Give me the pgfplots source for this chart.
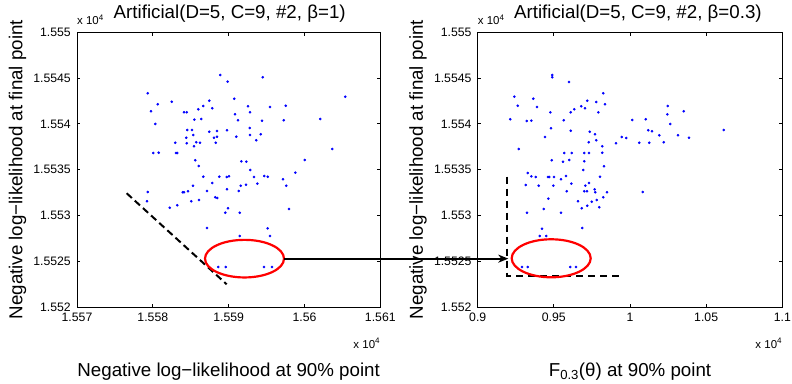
\documentclass[border=0pt]{standalone}
\usepackage{fontspec}
\setmainfont{Liberation Sans}
\usepackage{pgfplots}
\pgfplotsset{compat=1.18}
\usetikzlibrary{arrows.meta}

\pgfplotsset{
  matstyle/.style={
    scale only axis, height=274.7bp, anchor=south west,
    scaled ticks=false,
    axis line style={line width=0.9bp},
    every tick/.style={black, line width=0.8bp},
    major tick length=3.5bp,
    tick align=inside,
    ymin=15520, ymax=15550,
    ytick={15520,15525,15530,15535,15540,15545,15550},
    yticklabels={1.552,1.5525,1.553,1.5535,1.554,1.5545,1.555},
    tick label style={font=\fontsize{12.3}{14}\selectfont},
    xticklabel style={inner sep=0pt, anchor=north, yshift=-6bp},
    yticklabel style={inner sep=0pt, anchor=east, xshift=-6bp},
    clip=false,
    every axis title/.style={anchor=base, inner sep=0pt, font=\fontsize{18.8}{21}\selectfont},
    every axis x label/.style={at={(axis description cs:0.5,-0.2512)}, anchor=base, inner sep=0pt, font=\fontsize{18.8}{21}\selectfont},
    every axis y label/.style={at={(axis description cs:-0.18,0.5)}, rotate=90, anchor=base, inner sep=0pt, font=\fontsize{18.8}{21}\selectfont},
    ylabel={Negative log−likelihood at final point},
  },
  dots/.style={only marks, mark=*, mark size=1.1bp, color=blue, mark options={draw=blue, fill=blue}},
}

\begin{document}
\begin{tikzpicture}
\useasboundingbox (0,0) rectangle (792bp,384bp);

% ---------------- left panel ----------------
\begin{axis}[matstyle, at={(77bp,77bp)}, width=303.3bp,
  xmin=15570, xmax=15610,
  xtick={15570,15580,15590,15600,15610},
  xticklabels={1.557,1.558,1.559,1.56,1.561},
  title={Artificial(D=5, C=9, \#2, β=1)},
  title style={at={(axis description cs:0.5035,1.051)}},
  xlabel={Negative log−likelihood at 90\% point},
]
\addplot[dots] coordinates {
(15588.9,15545.34) (15589.87,15544.61) (15594.49,15545.09) (15579.32,15543.34) (15605.38,15542.97)
(15582.49,15542.42) (15587.45,15542.53) (15590.74,15542.75) (15580.64,15542.14) (15586.66,15541.95)
(15592.55,15541.92) (15595.45,15541.84) (15597.52,15541.98) (15579.76,15541.37) (15584.11,15541.26)
(15584.47,15541.26) (15586.00,15541.59) (15587.84,15541.70) (15590.84,15541.04) (15592.82,15541.26)
(15585.47,15540.46) (15586.39,15540.53) (15591.23,15540.39) (15594.40,15540.35) (15597.26,15540.39)
(15602.09,15540.53) (15580.33,15539.99) (15584.55,15539.33) (15585.17,15539.33) (15587.45,15539.14)
(15588.46,15539.22) (15589.78,15539.30) (15592.78,15539.55) (15584.41,15538.49) (15585.34,15538.78)
(15588.07,15538.49) (15588.46,15538.60) (15591.01,15538.60) (15592.82,15538.78) (15594.23,15538.86)
(15593.65,15538.21) (15582.96,15537.94) (15584.47,15537.88) (15585.73,15537.99) (15586.22,15537.94)
(15588.29,15537.94) (15585.43,15537.55) (15603.67,15537.26) (15580.06,15536.82) (15580.77,15536.85)
(15583.06,15536.82) (15583.23,15536.82) (15585.60,15536.02) (15586.05,15535.40) (15591.67,15535.91)
(15592.33,15535.87) (15600.03,15536.05) (15592.85,15534.96) (15598.79,15534.67) (15586.66,15534.23)
(15588.77,15534.23) (15589.74,15534.20) (15590.05,15534.27) (15593.34,15534.20) (15594.70,15534.31)
(15595.15,15534.23) (15587.84,15533.54) (15585.30,15533.25) (15591.59,15533.25) (15592.29,15533.36)
(15593.78,15533.47) (15597.17,15533.95) (15597.60,15533.25) (15579.32,15532.56) (15583.94,15532.53)
(15584.11,15532.53) (15584.64,15532.64) (15587.14,15532.67) (15589.78,15532.85) (15591.32,15532.67)
(15588.24,15531.98) (15588.50,15531.90) (15586.09,15531.69) (15579.23,15531.54) (15585.07,15531.54)
(15582.23,15530.84) (15583.23,15531.11) (15589.91,15530.78) (15589.56,15530.30) (15591.46,15530.30)
(15597.96,15530.70) (15587.14,15528.63) (15595.15,15528.59) (15591.46,15527.75) (15595.45,15527.75)
(15588.63,15524.37) (15589.61,15524.37) (15594.66,15524.37) (15595.72,15524.37)
};
\draw[black, line width=2bp, dash pattern=on 7bp off 4bp] (axis cs:15576.55,15532.42) -- (axis cs:15589.74,15522.48);
\draw[red, line width=2.2bp] (axis cs:15592.09,15525.28) ellipse [x radius=39.5bp, y radius=18.8bp];
\coordinate (A) at (axis cs:15597.3,15525.28);
\node[anchor=base west, inner sep=0pt, font=\fontsize{11.5}{13}\selectfont] at (rel axis cs:0,1) [yshift=7.3bp] {x 10\textsuperscript{4}};
\node[anchor=base east, inner sep=0pt, font=\fontsize{11.5}{13}\selectfont] at (rel axis cs:1,0) [yshift=-41bp] {x 10\textsuperscript{4}};
\end{axis}

% ---------------- right panel ----------------
\begin{axis}[matstyle, at={(477.7bp,77bp)}, width=304.6bp,
  xmin=9000, xmax=11000,
  xtick={9000,9500,10000,10500,11000},
  xticklabels={0.9,0.95,1,1.05,1.1},
  title={Artificial(D=5, C=9, \#2, β=0.3)},
  title style={at={(axis description cs:0.526,1.051)}},
  xlabel={F\textsubscript{0.3}(θ) at 90\% point},
]
\addplot[dots] coordinates {
(9489.8,15545.34) (9489.8,15545.09) (9599.5,15544.57) (9240.3,15542.97) (9365.1,15542.75)
(9824.7,15543.34) (9262.6,15541.98) (9389.4,15541.84) (9719.6,15542.53) (9778.7,15542.39)
(9835.9,15542.14) (9680.2,15541.92) (9704.5,15541.70) (9634.3,15541.59) (9476.7,15541.26)
(9610.6,15541.26) (9791.9,15541.26) (10247.5,15541.95) (10244.9,15541.04) (10352.6,15541.37)
(9214.1,15540.50) (9321.7,15540.31) (9351.9,15540.35) (9564.7,15540.39) (10015.1,15540.42)
(10103.1,15540.50) (10264.6,15539.99) (10615.2,15539.33) (9481.3,15539.52) (9610.6,15539.25)
(9735.4,15539.14) (9770.2,15538.86) (10120.2,15539.30) (10144.5,15539.19) (10192.4,15538.75)
(10315.2,15538.75) (10387.4,15538.49) (9945.5,15538.57) (9975.7,15538.46) (9441.9,15538.57)
(9728.8,15537.99) (9778.7,15538.21) (9818.1,15537.55) (9908.1,15537.88) (10061.1,15537.94)
(10126.7,15537.94) (10221.3,15537.99) (9269.2,15537.26) (9568.6,15536.82) (9617.2,15536.82)
(9699.9,15536.82) (9730.8,15536.82) (9818.1,15536.85) (9485.9,15536.02) (9560.1,15535.87)
(9601.4,15536.05) (9699.9,15535.91) (9829.3,15535.37) (9693.4,15534.96) (9328.3,15534.63)
(9351.9,15534.27) (9380.8,15534.20) (9461.6,15534.20) (9470.1,15534.20) (9501.0,15534.20)
(9579.8,15534.31) (9546.9,15533.95) (9803.0,15534.23) (9315.2,15533.32) (9400.5,15533.25)
(9496.4,15533.25) (9614.6,15533.47) (9730.8,15533.54) (9706.5,15533.25) (9584.4,15532.64)
(9699.9,15532.64) (9717.7,15532.64) (9768.2,15532.85) (9772.2,15532.53) (9849.0,15532.53)
(10083.4,15532.56) (9463.6,15531.83) (9658.6,15531.54) (9748.5,15531.50) (9781.4,15531.69)
(9824.7,15531.98) (9433.4,15530.70) (9682.9,15530.78) (9719.6,15531.06) (9798.4,15530.89)
(9323.7,15530.30) (9546.9,15530.30) (9422.2,15528.55) (9686.8,15528.63) (9407.1,15527.75)
(9450.4,15527.75) (9290.9,15524.37) (9328.3,15524.37) (9608.0,15524.37) (9645.4,15524.37)
};
\draw[black, line width=2bp, dash pattern=on 7bp off 5bp] (axis cs:9194.4,15534.23) -- (axis cs:9194.4,15523.39) -- (axis cs:9925.8,15523.39);
\draw[red, line width=2.2bp] (axis cs:9482.6,15525.32) ellipse [x radius=39.5bp, y radius=19bp];
\coordinate (B) at (axis cs:9201,15525.28);
\node[anchor=base west, inner sep=0pt, font=\fontsize{11.5}{13}\selectfont] at (rel axis cs:0,1) [yshift=7.3bp] {x 10\textsuperscript{4}};
\node[anchor=base east, inner sep=0pt, font=\fontsize{11.5}{13}\selectfont] at (rel axis cs:1,0) [yshift=-41bp] {x 10\textsuperscript{4}};
\end{axis}

\draw[black, line width=2bp, -{Stealth[length=10bp, width=8bp, inset=3bp]}] (A) -- (B);
\end{tikzpicture}
\end{document}
